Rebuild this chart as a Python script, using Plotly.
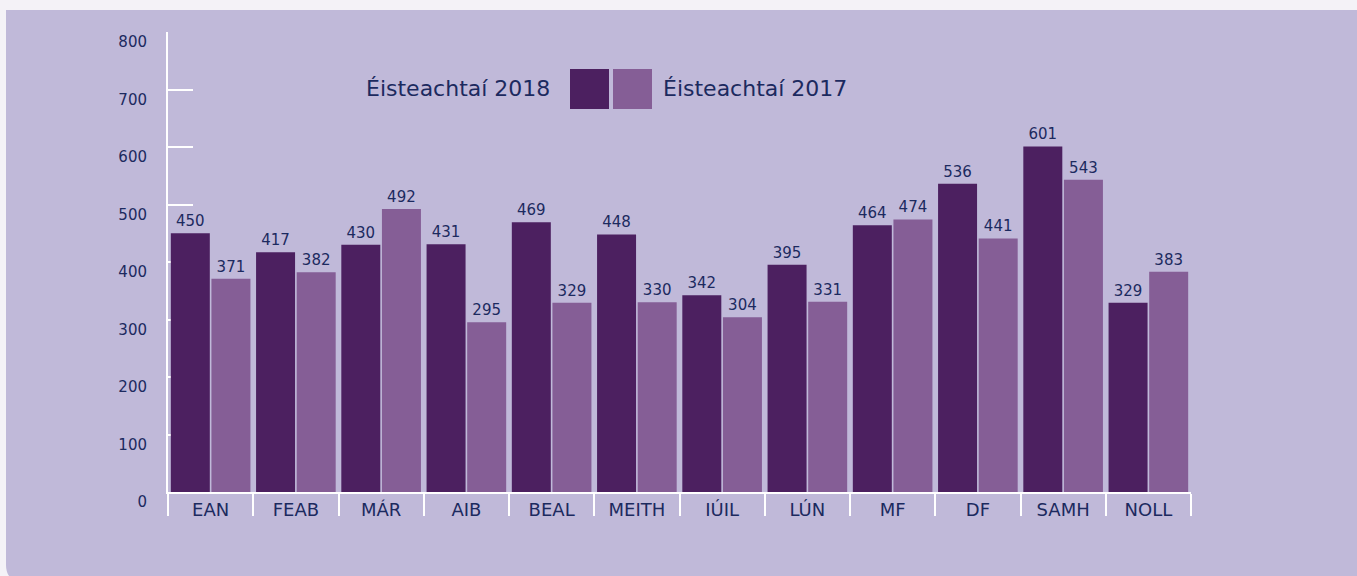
import plotly.graph_objects as go

miosa = ['EAN', 'FEAB', 'MÁR', 'AIB', 'BEAL', 'MEITH', 'IÚIL', 'LÚN', 'MF', 'DF', 'SAMH', 'NOLL']
eisteachtai_2018 = [450, 417, 430, 431, 469, 448, 342, 395, 464, 536, 601, 329]
eisteachtai_2017 = [371, 382, 492, 295, 329, 330, 304, 331, 474, 441, 543, 383]
y_ticks = [0, 100, 200, 300, 400, 500, 600, 700, 800]

dorcha = '#4c2060'
eadrom = '#855e96'
gorm = '#1c2a5f'
cul = '#c0b9d9'
font = 'DejaVu Sans'

W, H = 1357, 576
L, R, T, B = 168, 166, 32, 84
pw, ph = W - L - R, H - T - B


def px(x):
    return (x - L) / pw


def py(y):
    return (H - B - y) / ph


fig = go.Figure()
for ainm, luach, dath in [('Éisteachtaí 2018', eisteachtai_2018, dorcha),
                          ('Éisteachtaí 2017', eisteachtai_2017, eadrom)]:
    fig.add_trace(go.Bar(x=miosa, y=luach, name=ainm, marker_color=dath,
                         marker_line_width=0, text=luach, textposition='outside',
                         textfont=dict(family=font, size=15, color=gorm),
                         cliponaxis=False))

# painéal cúlra
r = 16
x0, x1, y0, y1 = px(6), px(W + 5), py(10), py(H + 5)
rx, ry = r / pw, r / ph
panel = (f'M {x0} {y0} L {x1} {y0} L {x1} {y1} L {x0 + rx} {y1} '
         f'Q {x0} {y1} {x0} {y1 + ry} Z')
fig.add_shape(type='path', path=panel, xref='paper', yref='paper',
              fillcolor=cul, line_width=0, layer='below')

# finscéal
fig.add_shape(type='rect', xref='paper', yref='paper', x0=px(570), x1=px(609),
              y0=py(109), y1=py(69), fillcolor=dorcha, line_width=0)
fig.add_shape(type='rect', xref='paper', yref='paper', x0=px(613), x1=px(652),
              y0=py(109), y1=py(69), fillcolor=eadrom, line_width=0)
fig.add_annotation(text='Éisteachtaí 2018', xref='paper', yref='paper', x=px(552), y=py(89),
                   xanchor='right', yanchor='middle', showarrow=False,
                   font=dict(family=font, size=22, color=gorm))
fig.add_annotation(text='Éisteachtaí 2017', xref='paper', yref='paper', x=px(661), y=py(89),
                   xanchor='left', yanchor='middle', showarrow=False,
                   font=dict(family=font, size=22, color=gorm))

fig.update_layout(
    width=W, height=H,
    margin=dict(l=L, r=R, t=T, b=B),
    paper_bgcolor='#f4f2f7',
    plot_bgcolor='rgba(0,0,0,0)',
    barmode='group', bargap=0.047, bargroupgap=0.04,
    showlegend=False,
    xaxis=dict(showline=True, linecolor='white', linewidth=2,
               ticks='outside', tickson='boundaries', ticklen=22, tickwidth=2,
               tickcolor='white', showgrid=False,
               tickfont=dict(family=font, size=18, color=gorm)),
    yaxis=dict(range=[0, 800], tickvals=y_ticks, showline=True, linecolor='white',
               linewidth=2, ticks='inside', ticklen=25, tickwidth=2, tickcolor='white',
               showgrid=False, zeroline=False, layer='below traces',
               ticklabelshift=10, ticklabelstandoff=16,
               tickfont=dict(family=font, size=15, color=gorm)),
)

fig.write_html('out.html', config={'displayModeBar': False},
               post_script="document.body.style.margin='0';")
